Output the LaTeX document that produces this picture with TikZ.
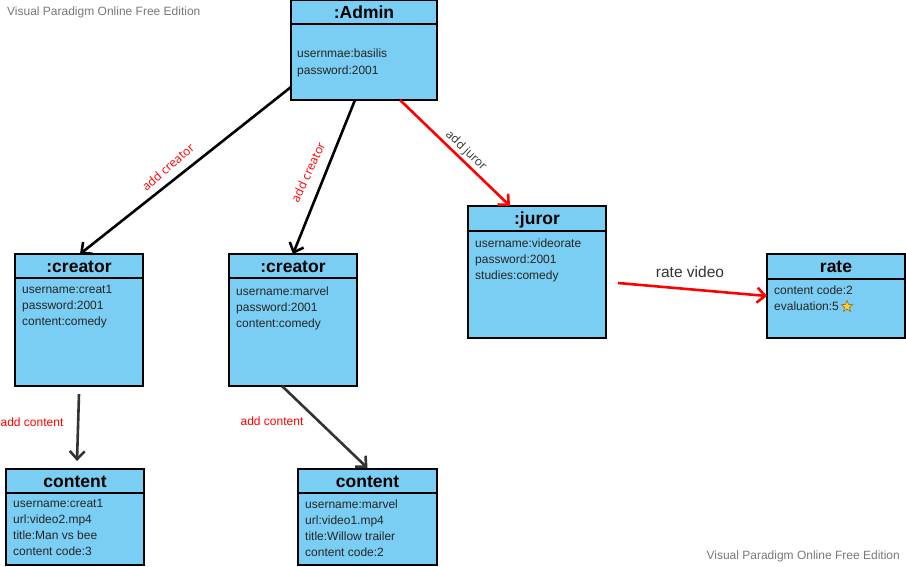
\documentclass[tikz,border=0pt]{standalone}
\usepackage{fontspec}
\setmainfont{Liberation Sans}
\newfontfamily\lblfont{Open Sans}
\usetikzlibrary{arrows.meta,shapes.geometric,calc}
\definecolor{objfill}{RGB}{122,206,243}
\definecolor{darkline}{RGB}{51,51,51}
\definecolor{wmgray}{RGB}{120,120,120}
\definecolor{lblred}{RGB}{255,0,0}
\definecolor{starfill}{RGB}{255,204,51}
\definecolor{stardraw}{RGB}{150,110,20}
\begin{document}
\begin{tikzpicture}[x=1pt,y=-1pt,
 objbox/.style={draw=black,line width=1.2pt,fill=objfill,inner sep=0,outer sep=0,anchor=north west},
 divider/.style={draw=black,line width=1.2pt},
 titletext/.style={font=\fontsize{17.5}{20}\selectfont\bfseries,anchor=base,inner sep=0},
 attrtext/.style={font=\fontsize{12}{16}\selectfont,align=left,anchor=north west,inner sep=0,text=black!85},
 conn/.style={line width=2.6pt,-{Straight Barb[length=8pt,width=15pt]}},
 lbl/.style={font=\lblfont\fontsize{12}{14}\selectfont,inner sep=0},
 wm/.style={font=\fontsize{12}{14}\selectfont,text=wmgray,inner sep=0}
]
\useasboundingbox (0,0) rectangle (906,566);

% watermarks
\node[wm,anchor=west] (wm1) at (7,12) {Visual Paradigm Online Free Edition};
\node[wm,anchor=east] (wm2) at (900,556) {Visual Paradigm Online Free Edition};

% Admin
\node[objbox,minimum width=146pt,minimum height=100pt] (admin) at (291,0) {};
\draw[divider] ([yshift=-24pt]admin.north west) -- ([yshift=-24pt]admin.north east);
\node[titletext] (admint) at ([yshift=-18.5pt]admin.north) {:Admin};
\node[attrtext,font=\fontsize{12}{17}\selectfont] (admina) at ([xshift=6pt,yshift=-48.5pt]admin.north west) {usernmae:basilis\\password:2001};

% creator 1
\node[objbox,minimum width=128pt,minimum height=132pt] (c1) at (15,254) {};
\draw[divider] ([yshift=-24pt]c1.north west) -- ([yshift=-24pt]c1.north east);
\node[titletext] (c1t) at ([yshift=-18pt]c1.north) {:creator};
\node[attrtext] (c1a) at ([xshift=7pt,yshift=-31.5pt]c1.north west) {username:creat1\\password:2001\\content:comedy};

% creator 2
\node[objbox,minimum width=128pt,minimum height=132pt] (c2) at (229,254) {};
\draw[divider] ([yshift=-24pt]c2.north west) -- ([yshift=-24pt]c2.north east);
\node[titletext] (c2t) at ([yshift=-18pt]c2.north) {:creator};
\node[attrtext] (c2a) at ([xshift=7pt,yshift=-33pt]c2.north west) {username:marvel\\password:2001\\content:comedy};

% juror
\node[objbox,minimum width=138pt,minimum height=132pt] (juror) at (468,206) {};
\draw[divider] ([yshift=-25pt]juror.north west) -- ([yshift=-25pt]juror.north east);
\node[titletext] (jurort) at ([yshift=-18pt]juror.north) {:juror};
\node[attrtext] (jurora) at ([xshift=7pt,yshift=-32.5pt]juror.north west) {username:videorate\\password:2001\\studies:comedy};

% rate
\node[objbox,minimum width=138pt,minimum height=84pt] (rate) at (767,254) {};
\draw[divider] ([yshift=-25pt]rate.north west) -- ([yshift=-25pt]rate.north east);
\node[titletext] (ratet) at ([yshift=-18pt]rate.north) {rate};
\node[attrtext] (ratea) at ([xshift=7pt,yshift=-31.5pt]rate.north west) {content code:2\\evaluation:5};
\node[star,star points=5,star point ratio=2.3,minimum size=12pt,inner sep=0,fill=starfill,draw=stardraw,line width=0.6pt] (rstar) at (847,306.5) {};

% content 1
\node[objbox,minimum width=138pt,minimum height=96pt] (k1) at (6,469) {};
\draw[divider] ([yshift=-24pt]k1.north west) -- ([yshift=-24pt]k1.north east);
\node[titletext] (k1t) at ([yshift=-18pt]k1.north) {content};
\node[attrtext] (k1a) at ([xshift=7pt,yshift=-30.5pt]k1.north west) {username:creat1\\url:video2.mp4\\title:Man vs bee\\content code:3};

% content 2
\node[objbox,minimum width=139pt,minimum height=96pt] (k2) at (298,469) {};
\draw[divider] ([yshift=-24pt]k2.north west) -- ([yshift=-24pt]k2.north east);
\node[titletext] (k2t) at ([yshift=-18pt]k2.north) {content};
\node[attrtext] (k2a) at ([xshift=7pt,yshift=-30.5pt]k2.north west) {username:marvel\\url:video1.mp4\\title:Willow trailer\\content code:2};

% connectors
\draw[conn,black] ([yshift=13pt]admin.south west) -- ([xshift=65pt]c1.north west);
\draw[conn,black] ([xshift=64pt]admin.south west) -- ([xshift=64pt]c2.north west);
\draw[conn,lblred] ([xshift=109pt]admin.south west) -- ([xshift=42pt]juror.north west);
\draw[conn,lblred] ([xshift=12pt,yshift=-11pt]juror.east) -- (rate.west);
\draw[conn,darkline] ([yshift=-8pt]c1.south) -- ([xshift=2pt,yshift=8pt]k1.north);
\draw[conn,darkline] ([xshift=-11pt]c2.south) -- ([yshift=1pt]k2.north);

% labels
\node[lbl,text=lblred,rotate=41] (l1) at (168,167) {add creator};
\node[lbl,text=lblred,rotate=65] (l2) at (308,172) {add creator};
\node[lbl,text=darkline,rotate=-44] (l3) at (466,151) {add juror};
\node[font=\fontsize{15.5}{18}\selectfont,text=darkline,inner sep=0] (l4) at (690,272) {rate video};
\node[font=\fontsize{12}{14}\selectfont,text=lblred,inner sep=0] (l5) at (32,422) {add content};
\node[font=\fontsize{12}{14}\selectfont,text=lblred,inner sep=0] (l6) at (272,421) {add content};
\end{tikzpicture}
\end{document}
